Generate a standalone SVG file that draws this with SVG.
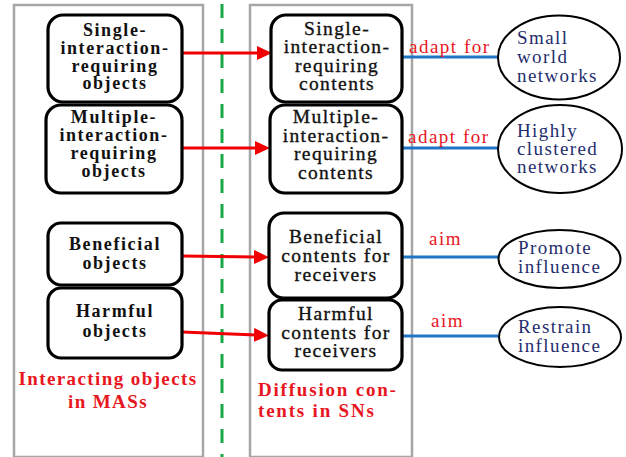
<svg xmlns="http://www.w3.org/2000/svg" width="626" height="457" viewBox="0 0 626 457">
<style>
.panel{fill:none;stroke:#a6a6a6;stroke-width:2.5}
.box{fill:#fff;stroke:#000;stroke-width:3.2}
.ell{fill:#fff;stroke:#000;stroke-width:2}
.lt{font-family:"Liberation Serif",serif;font-weight:bold;font-size:18px;letter-spacing:1.6px;text-anchor:middle;fill:#111}
.rt{font-family:"Liberation Serif",serif;font-size:19.5px;letter-spacing:1.4px;text-anchor:middle;fill:#111;stroke:#111;stroke-width:0.35}
.et{font-family:"Liberation Serif",serif;font-size:19px;letter-spacing:1.4px;fill:#1f2d6e}
.lab{font-family:"Liberation Serif",serif;font-size:19px;letter-spacing:1.5px;fill:#e8161e}
.cap{font-family:"Liberation Serif",serif;font-weight:bold;font-size:19px;fill:#e8161e}
.red{stroke:#f00000;stroke-width:3;fill:none}
.blue{stroke:#1f74c6;stroke-width:3;fill:none}
</style>
<defs>
<marker id="ah" markerUnits="userSpaceOnUse" markerWidth="16" markerHeight="16" viewBox="0 0 16 16" refX="3" refY="7" orient="auto">
<path d="M0,0 L15,7 L0,14 z" fill="#f00000"/>
</marker>
</defs>
<rect width="626" height="457" fill="#fff"/>
<g id="panels">
<rect class="panel" x="14" y="5" width="189" height="452"/>
<rect class="panel" x="250" y="5" width="162" height="452"/>
<line x1="222" y1="4" x2="222" y2="457" stroke="#1aa847" stroke-width="3" stroke-dasharray="14 11"/>
</g>
<g id="connectors">
<line class="red" x1="182" y1="53" x2="260" y2="53" marker-end="url(#ah)"/>
<line class="red" x1="182" y1="148" x2="258" y2="148" marker-end="url(#ah)"/>
<line class="red" x1="182" y1="256" x2="257" y2="257" marker-end="url(#ah)"/>
<line class="red" x1="182" y1="332" x2="257" y2="335" marker-end="url(#ah)"/>
<line class="blue" x1="402" y1="57" x2="498" y2="57"/>
<line class="blue" x1="402" y1="148" x2="498" y2="148"/>
<line class="blue" x1="402" y1="257" x2="498" y2="257"/>
<line class="blue" x1="402" y1="336" x2="498" y2="336"/>
<text class="lab" x="409" y="53">adapt for</text>
<text class="lab" x="408" y="143">adapt for</text>
<text class="lab" x="429" y="245">aim</text>
<text class="lab" x="431" y="327">aim</text>
</g>
<g id="n-single-obj">
<rect class="box" x="48" y="15" width="134" height="87" rx="15"/>
<text class="lt" x="115" y="36">Single-</text>
<text class="lt" x="115" y="54">interaction-</text>
<text class="lt" x="115" y="72">requiring</text>
<text class="lt" x="115" y="89">objects</text>
</g>
<g id="n-multi-obj">
<rect class="box" x="46" y="105" width="136" height="88" rx="15"/>
<text class="lt" x="114" y="123">Multiple-</text>
<text class="lt" x="114" y="141">interaction-</text>
<text class="lt" x="114" y="159">requiring</text>
<text class="lt" x="114" y="177">objects</text>
</g>
<g id="n-benef-obj">
<rect class="box" x="48" y="223" width="134" height="62" rx="13"/>
<text class="lt" x="115" y="250">Beneficial</text>
<text class="lt" x="115" y="269">objects</text>
</g>
<g id="n-harm-obj">
<rect class="box" x="48" y="288" width="134" height="70" rx="13"/>
<text class="lt" x="115" y="317">Harmful</text>
<text class="lt" x="115" y="337">objects</text>
</g>
<g id="cap-left">
<text class="cap" x="108" y="385" text-anchor="middle" letter-spacing="1.4">Interacting objects</text>
<text class="cap" x="108" y="408" text-anchor="middle" letter-spacing="1.4">in MASs</text>
</g>
<g id="n-single-cont">
<rect class="box" x="271" y="15" width="131" height="87" rx="15"/>
<text class="rt" x="337" y="35">Single-</text>
<text class="rt" x="337" y="53">interaction-</text>
<text class="rt" x="337" y="72">requiring</text>
<text class="rt" x="337" y="90">contents</text>
</g>
<g id="n-multi-cont">
<rect class="box" x="270" y="105" width="132" height="88" rx="15"/>
<text class="rt" x="336" y="123">Multiple-</text>
<text class="rt" x="336" y="142">interaction-</text>
<text class="rt" x="336" y="160">requiring</text>
<text class="rt" x="336" y="179">contents</text>
</g>
<g id="n-benef-cont">
<rect class="box" x="269" y="213" width="133" height="85" rx="15"/>
<text class="rt" x="336" y="243">Beneficial</text>
<text class="rt" x="336" y="262">contents for</text>
<text class="rt" x="336" y="281">receivers</text>
</g>
<g id="n-harm-cont">
<rect class="box" x="269" y="300" width="133" height="70" rx="13"/>
<text class="rt" x="336" y="320">Harmful</text>
<text class="rt" x="336" y="339">contents for</text>
<text class="rt" x="336" y="357">receivers</text>
</g>
<g id="cap-right">
<text class="cap" x="258" y="396" font-size="20" letter-spacing="1.8">Diffusion con-</text>
<text class="cap" x="258" y="417" font-size="20" letter-spacing="1.8">tents in SNs</text>
</g>
<g id="n-small-world">
<ellipse class="ell" cx="559" cy="57.5" rx="61" ry="42"/>
<text class="et" x="517" y="44">Small</text>
<text class="et" x="517" y="63">world</text>
<text class="et" x="517" y="82">networks</text>
</g>
<g id="n-clustered">
<ellipse class="ell" cx="560" cy="149" rx="62" ry="44"/>
<text class="et" x="517" y="137">Highly</text>
<text class="et" x="517" y="155">clustered</text>
<text class="et" x="517" y="173">networks</text>
</g>
<g id="n-promote">
<ellipse class="ell" cx="559.5" cy="259" rx="61" ry="29"/>
<text class="et" x="518" y="254">Promote</text>
<text class="et" x="518" y="273">influence</text>
</g>
<g id="n-restrain">
<ellipse class="ell" cx="560" cy="337" rx="61" ry="30"/>
<text class="et" x="518" y="333">Restrain</text>
<text class="et" x="518" y="352">influence</text>
</g>
</svg>
